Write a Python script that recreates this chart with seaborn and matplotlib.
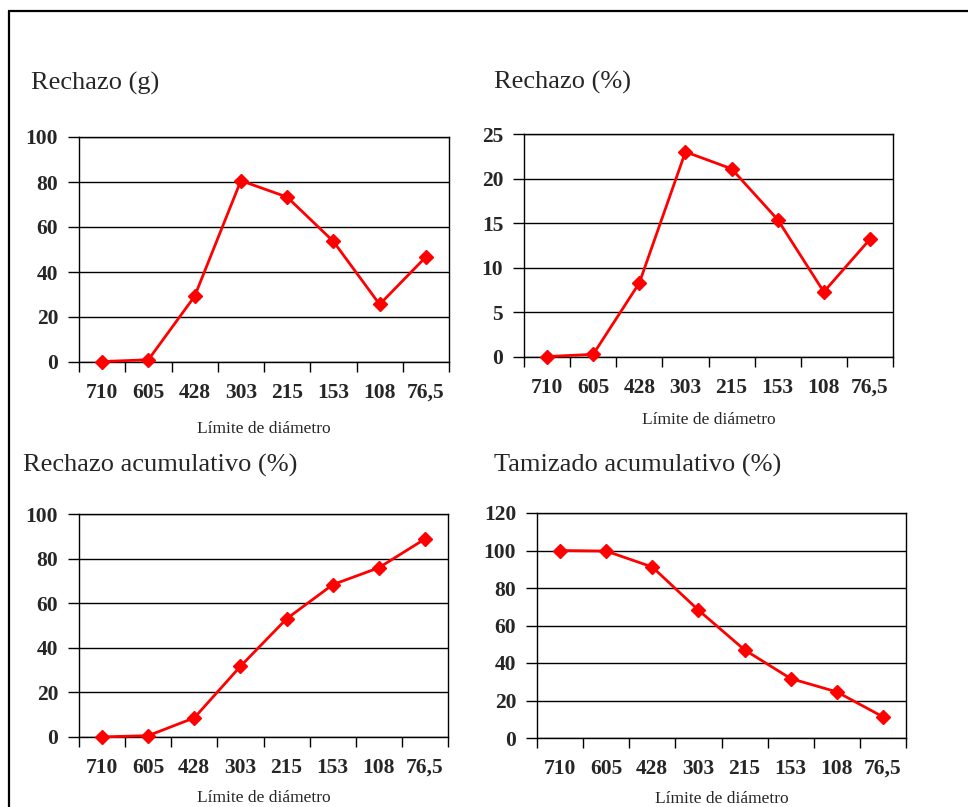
import matplotlib
matplotlib.use("Agg")
import matplotlib.pyplot as plt
from matplotlib.lines import Line2D
from matplotlib.ticker import FixedLocator, MultipleLocator
import seaborn as sns
import pandas as pd
import numpy as np

# ---- data ----
diametros = ["710", "605", "428", "303", "215", "153", "108", "76,5"]
rechazo_g = [0.2, 1.0, 29.2, 80.6, 73.3, 53.6, 25.6, 46.7]
rechazo_pct = [0.05, 0.3, 8.3, 23.0, 21.1, 15.4, 7.3, 13.2]
rechazo_acum = [0.05, 0.6, 8.6, 31.7, 53.0, 68.3, 75.9, 88.8]
tamizado_acum = [100.0, 99.7, 91.2, 68.2, 47.0, 31.7, 24.6, 11.3]

titulos = ["Rechazo (g)", "Rechazo (%)", "Rechazo acumulativo (%)", "Tamizado acumulativo (%)"]
series = [rechazo_g, rechazo_pct, rechazo_acum, tamizado_acum]
ymax = [100, 25, 100, 120]
ystep = [20, 5, 20, 20]
xlabel = "Límite de diámetro"

sns.set_style("white")
plt.rcParams["font.family"] = ["Liberation Serif", "DejaVu Serif"]

W, H = 968, 807
fig = plt.figure(figsize=(W / 100, H / 100), dpi=100)

# axes boxes in pixels: left, right, top, bottom
boxes = [(79, 449, 137, 362), (524, 893, 134, 357), (79, 448, 514, 737), (537, 906, 513, 738)]
title_pos = [(31, 90), (494, 89), (23, 472), (494, 472)]
label_pads = [13, 10, 9, 9]

for i in range(4):
    l, r, t, b = boxes[i]
    ax = fig.add_axes([l / W, 1 - b / H, (r - l) / W, (b - t) / H])
    df = pd.DataFrame({"x": diametros, "y": series[i]})
    sns.lineplot(data=df, x="x", y="y", ax=ax, sort=False, color="#ff0000",
                 linewidth=2.0, marker="D", markersize=7.5, markeredgewidth=1,
                 markeredgecolor="#ff0000", zorder=5, clip_on=False)
    ax.set_xlim(-0.5, len(diametros) - 0.5)
    ax.set_ylim(0, ymax[i])
    ax.yaxis.set_major_locator(MultipleLocator(ystep[i]))
    ax.set_xticks(range(len(diametros)))
    ax.set_xticklabels(diametros)
    ax.xaxis.set_minor_locator(FixedLocator(np.arange(-0.5, len(diametros), 1.0)))
    ax.tick_params(axis="x", which="major", length=0, pad=15, labelsize=15.5)
    ax.tick_params(axis="x", which="minor", length=7, width=1, color="black", direction="out", bottom=True)
    ax.tick_params(axis="y", which="major", length=8, width=1, color="black", direction="out",
                   left=True, pad=7, labelsize=15.5)
    for lab in ax.get_xticklabels() + ax.get_yticklabels():
        lab.set_fontweight("bold")
    ax.grid(axis="y", color="black", linewidth=1)
    ax.set_axisbelow(True)
    for s in ax.spines.values():
        s.set_visible(True)
        s.set_color("black")
        s.set_linewidth(1)
    ax.set_ylabel("")
    ax.set_xlabel(xlabel, fontsize=12.5, labelpad=label_pads[i])
    tx, ty = title_pos[i]
    fig.text(tx / W, 1 - ty / H, titulos[i], fontsize=19, ha="left", va="baseline")

# outer frame (top and left edges)
fig.add_artist(Line2D([9 / W, 1.0], [1 - 11 / H, 1 - 11 / H], color="black", linewidth=1.6))
fig.add_artist(Line2D([9 / W, 9 / W], [1 - 11 / H, 0.0], color="black", linewidth=1.6))

fig.savefig("out.png", dpi=100)
